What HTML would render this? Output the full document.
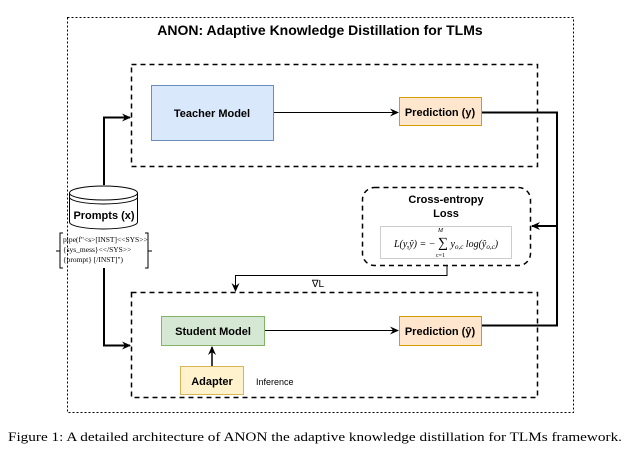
<!DOCTYPE html>
<html><head><style>body{margin:0;background:#fff}svg{display:block}</style></head><body>
<svg width="630" height="454" viewBox="0 0 630 454" xmlns="http://www.w3.org/2000/svg" font-family="Liberation Sans, sans-serif">
<defs><marker id="a" markerWidth="10" markerHeight="10" refX="8" refY="5" orient="auto" markerUnits="userSpaceOnUse"><path d="M0,1 L9,5 L0,9 L3,5 z" fill="#000"/></marker></defs>
<rect x="67.5" y="17.5" width="506" height="395" fill="none" stroke="#000" stroke-dasharray="2,2"/>
<text x="320" y="35" font-size="14" font-weight="bold" text-anchor="middle">ANON: Adaptive Knowledge Distillation for TLMs</text>
<rect x="131.5" y="64.5" width="406" height="102" fill="none" stroke="#000" stroke-width="1.5" stroke-dasharray="5,4"/>
<rect x="151.5" y="85.5" width="122" height="55" fill="#dae8fc" stroke="#6c8ebf"/>
<text x="212" y="117" font-size="11" font-weight="bold" text-anchor="middle">Teacher Model</text>
<line x1="274" y1="112.5" x2="398" y2="112.5" stroke="#000" marker-end="url(#a)"/>
<rect x="399.5" y="97.5" width="82" height="28" fill="#ffe6cc" stroke="#d79b00"/>
<text x="440" y="116" font-size="11" font-weight="bold" text-anchor="middle">Prediction (y)</text>
<polyline points="482,112.5 557,112.5 557,325.5 482,325.5" fill="none" stroke="#000" stroke-width="2"/>
<line x1="557" y1="226" x2="532" y2="226" stroke="#000" stroke-width="2" marker-end="url(#a)"/>
<rect x="362.5" y="187.5" width="168" height="78" rx="12" fill="none" stroke="#000" stroke-width="1.5" stroke-dasharray="5,4"/>
<text x="446" y="203" font-size="11" font-weight="bold" text-anchor="middle">Cross-entropy</text>
<text x="446" y="217" font-size="11" font-weight="bold" text-anchor="middle">Loss</text>
<rect x="380.5" y="226.5" width="131" height="32" fill="#fff" stroke="#ccc"/>
<text x="446" y="247" font-size="10" text-anchor="middle" font-family="Liberation Serif, serif" font-style="italic">L(y,ŷ) = − <tspan font-size="14" font-style="normal">∑</tspan> y<tspan font-size="7" dy="2">o,c</tspan><tspan dy="-2"> log(ŷ</tspan><tspan font-size="7" dy="2">o,c</tspan><tspan dy="-2">)</tspan></text>
<text x="438" y="232" font-size="6" font-family="Liberation Serif, serif" font-style="italic">M</text>
<text x="436" y="257" font-size="6" font-family="Liberation Serif, serif">c=1</text>
<polyline points="447,266 447,275.5 235.5,275.5 235.5,291" fill="none" stroke="#000" marker-end="url(#a)"/>
<text x="318" y="287" font-size="10" text-anchor="middle">∇L</text>
<rect x="131.5" y="292.5" width="406" height="105" fill="none" stroke="#000" stroke-width="1.5" stroke-dasharray="5,4"/>
<rect x="161.5" y="316.5" width="103" height="29" fill="#d5e8d4" stroke="#82b366"/>
<text x="213" y="335" font-size="11" font-weight="bold" text-anchor="middle">Student Model</text>
<line x1="265" y1="330.5" x2="398" y2="330.5" stroke="#000" marker-end="url(#a)"/>
<rect x="399.5" y="316.5" width="82" height="29" fill="#ffe6cc" stroke="#d79b00"/>
<text x="440" y="335" font-size="11" font-weight="bold" text-anchor="middle">Prediction (ŷ)</text>
<rect x="180.5" y="366.5" width="63" height="28" fill="#fff2cc" stroke="#d6b656"/>
<text x="212" y="385" font-size="11" font-weight="bold" text-anchor="middle">Adapter</text>
<line x1="212" y1="366" x2="212" y2="347" stroke="#000" stroke-width="1.5" marker-end="url(#a)"/>
<text x="256" y="385" font-size="9">Inference</text>
<polyline points="104,185 104,117.5 130,117.5" fill="none" stroke="#000" stroke-width="2" marker-end="url(#a)"/>
<polyline points="104,268 104,345.5 130,345.5" fill="none" stroke="#000" stroke-width="2" marker-end="url(#a)"/>
<path d="M69.5,193 L69.5,222 A34,7 0 0 0 137.5,222 L137.5,193" fill="#fff" stroke="#000"/>
<ellipse cx="103.5" cy="193" rx="34" ry="7" fill="#fff" stroke="#000"/>
<path d="M69.5,197 A34,7 0 0 0 137.5,197" fill="none" stroke="#000"/>
<text x="104" y="219" font-size="11" font-weight="bold" text-anchor="middle">Prompts (x)</text>
<path d="M63,233 L60,233 L60,268 L63,268 M145,233 L148,233 L148,268 L145,268" fill="none" stroke="#000"/>
<line x1="56" y1="251" x2="60" y2="251" stroke="#000"/><line x1="148" y1="251" x2="152" y2="251" stroke="#000"/>
<g font-family="Liberation Serif, serif" font-size="7.5"><text x="63" y="242">pipe(f"&lt;s&gt;[INST]&lt;&lt;SYS&gt;&gt;</text><text x="63" y="252">{sys_mess}&lt;&lt;/SYS&gt;&gt;</text><text x="63" y="262">{prompt} [/INST]")</text></g>
<text x="8" y="441" font-size="13" textLength="614" lengthAdjust="spacingAndGlyphs" font-family="Liberation Serif, serif">Figure 1: A detailed architecture of ANON the adaptive knowledge distillation for TLMs framework.</text>
</svg>
</body></html>
